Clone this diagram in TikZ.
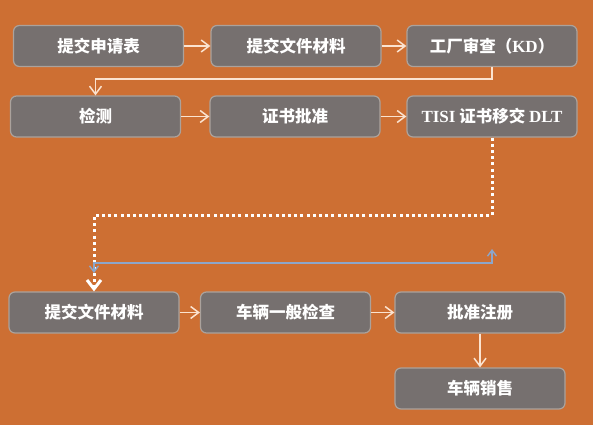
\documentclass[tikz,border=0pt]{standalone}
\usepackage{fontspec}
\newfontfamily\cjk{Noto Sans CJK SC}
\newfontfamily\lat{Liberation Serif}
\usetikzlibrary{arrows.meta}
\definecolor{bgorange}{HTML}{CD6F33}
\definecolor{boxgray}{HTML}{76706F}
\definecolor{boxedge}{HTML}{ABA29C}
\definecolor{arrcream}{HTML}{FBE3D0}
\definecolor{conblue}{HTML}{8CA6CA}
\newcommand{\latb}[1]{{\lat\bfseries\fontsize{17}{18}\selectfont #1}}
\tikzset{
  stepbox/.style={rounded corners=6pt, fill=boxgray, draw=boxedge, line width=1.2pt,
    minimum width=170pt, minimum height=41pt, inner sep=0pt, text=white,
    font=\cjk\bfseries\fontsize{16.5}{18}\selectfont},
  flow/.style={draw=arrcream, line width=1.5pt, -{Straight Barb[length=8pt,width=12pt,line width=1.5pt]}},
  dotflow/.style={draw=white, line width=3pt, dash pattern=on 3pt off 3.2pt,
    -{Straight Barb[length=9pt,width=14pt,line width=3pt]}},
  bluecon/.style={draw=conblue, line width=1.4pt,
    {Straight Barb[length=6pt,width=9pt,line width=1.4pt]}-{Straight Barb[length=6pt,width=9pt,line width=1.4pt]}}
}
\begin{document}
\begin{tikzpicture}[x=1pt,y=-1pt]
\fill[bgorange] (0,0) rectangle (593,425);
\useasboundingbox (0,0) rectangle (593,425);
% row 1
\node[stepbox] (b1) at (98.5,46) {提交申请表};
\node[stepbox] (b2) at (296,46) {提交文件材料};
\node[stepbox] (b3) at (492,46) {工厂审查（\latb{KD}）};
% row 2
\node[stepbox] (b4) at (95.5,116.5) {检测};
\node[stepbox] (b5) at (295,116.5) {证书批准};
\node[stepbox] (b6) at (492,116.5) {\latb{TISI} 证书移交 \latb{DLT}};
% row 3
\node[stepbox] (b7) at (94,312.5) {提交文件材料};
\node[stepbox] (b8) at (285.5,312.5) {车辆一般检查};
\node[stepbox] (b9) at (480,312.5) {批准注册};
\node[stepbox] (b10) at (480,388.5) {车辆销售};
% connectors
\draw[flow] (b1) -- (b2);
\draw[flow] (b2) -- (b3);
\draw[flow] (b3.south) -- ++(0,12) -| (b4.north);
\draw[flow] (b4) -- (b5);
\draw[flow] (b5) -- (b6);
\draw[dotflow] (b6.south) -- ++(0,78) -| (b7.north);
\draw[flow] (b7) -- (b8);
\draw[flow] (b8) -- (b9);
\draw[flow] (b9) -- (b10);
% blue connector
\coordinate (bl) at (94,273);
\coordinate (br) at (492,249);
\draw[bluecon] (bl) -- (94,263) -- (492,263) -- (br);
\end{tikzpicture}
\end{document}
